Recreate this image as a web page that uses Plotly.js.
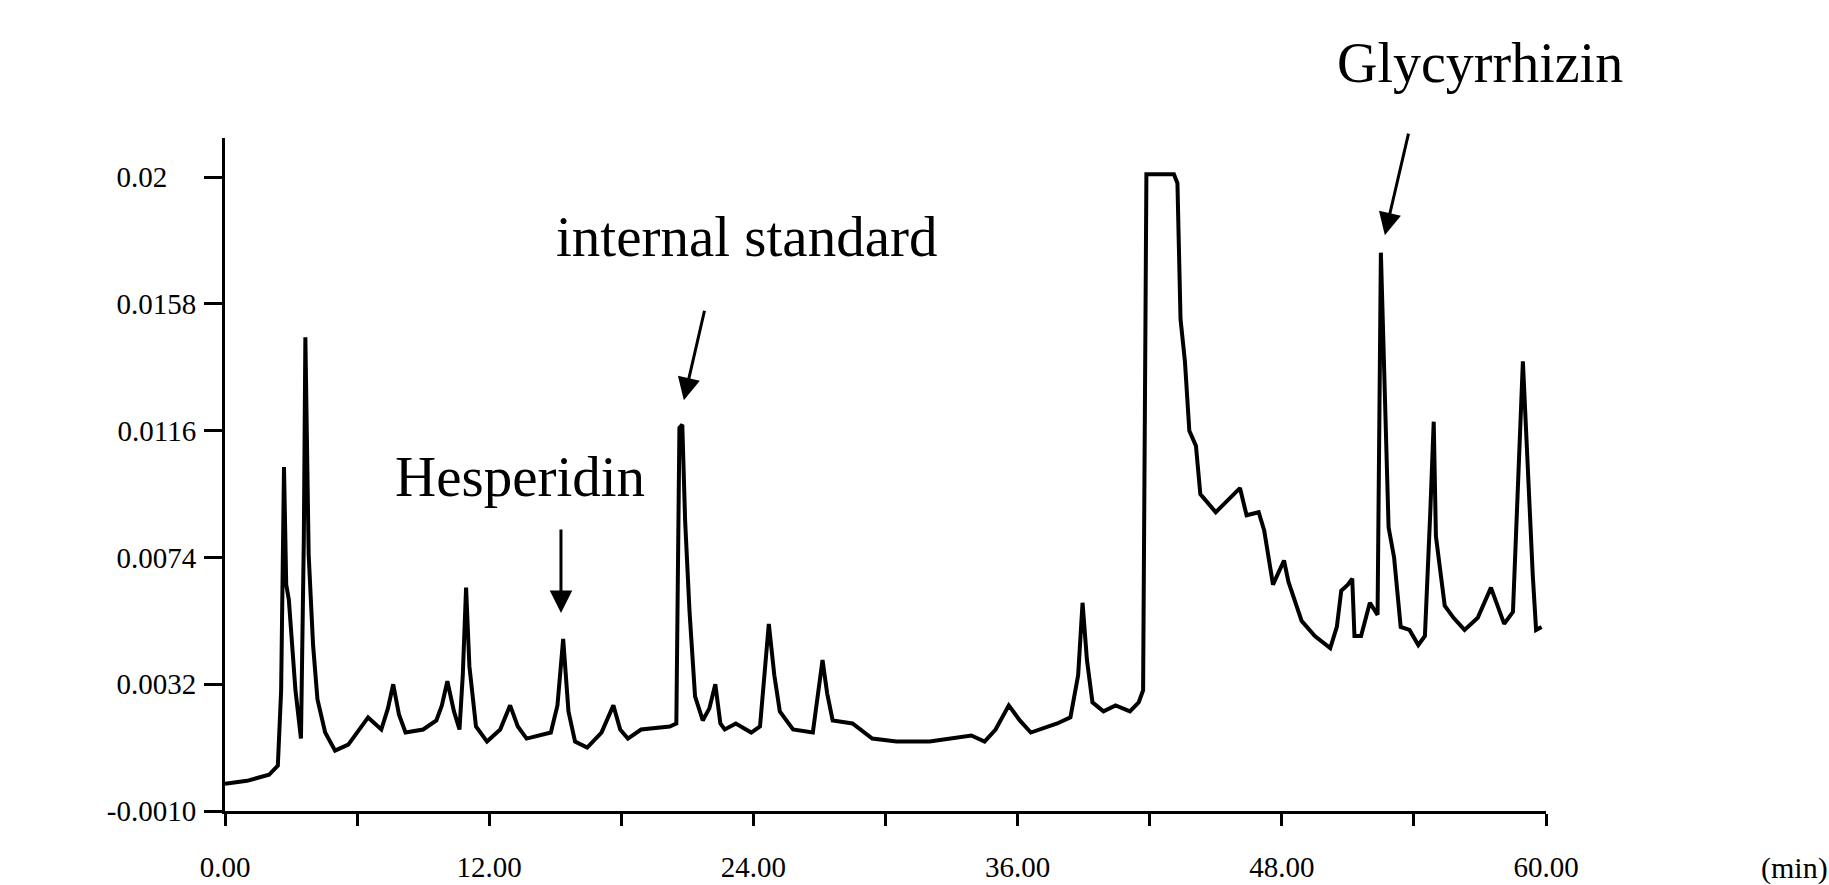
<!DOCTYPE html>
<html>
<head>
<meta charset="utf-8">
<script src="https://cdn.plot.ly/plotly-3.0.1.min.js"></script>
<style>html,body{margin:0;padding:0;background:#fff;}#chart{width:1829px;height:885px;}</style>
</head>
<body>
<div id="chart"></div>
<script>
// retention time (min)
var timeMin = [0, 1.0, 2.0, 2.4, 2.55, 2.68, 2.78, 2.9, 3.2, 3.45, 3.58, 3.65, 3.8, 4.0, 4.2, 4.55, 5.0, 5.6, 6.5, 7.1, 7.4, 7.64, 7.9, 8.2, 9.0, 9.6, 9.85, 10.1, 10.4, 10.65, 10.8, 10.95, 11.1, 11.4, 11.9, 12.5, 12.95, 13.3, 13.7, 14.8, 15.1, 15.36, 15.6, 15.9, 16.45, 17.1, 17.64, 17.95, 18.3, 18.9, 20.2, 20.5, 20.64, 20.77, 20.9, 21.1, 21.35, 21.7, 22.0, 22.27, 22.5, 22.7, 23.2, 23.9, 24.3, 24.7, 24.95, 25.2, 25.8, 26.7, 27.14, 27.35, 27.6, 28.5, 29.4, 30.5, 32.0, 33.9, 34.5, 35.0, 35.6, 36.1, 36.6, 37.8, 38.4, 38.75, 38.95, 39.15, 39.4, 39.9, 40.45, 41.1, 41.5, 41.7, 41.85, 43.1, 43.26, 43.4, 43.6, 43.8, 44.1, 44.3, 45.0, 45.7, 46.1, 46.4, 46.95, 47.2, 47.6, 48.1, 48.3, 48.9, 49.5, 50.2, 50.5, 50.7, 51.0, 51.2, 51.3, 51.6, 52.0, 52.35, 52.5, 52.85, 53.1, 53.4, 53.8, 54.2, 54.5, 54.75, 54.9, 55.0, 55.4, 55.8, 56.3, 56.9, 57.5, 58.1, 58.5, 58.7, 58.95, 59.4, 59.55, 59.8];
// absorbance
var absorbance = [-0.0001, 0.0000, 0.0002, 0.0005, 0.0030, 0.0104, 0.0065, 0.0060, 0.0030, 0.0014, 0.0080, 0.0147, 0.0075, 0.0045, 0.0027, 0.0016, 0.0010, 0.0012, 0.0021, 0.0017, 0.0024, 0.0032, 0.0022, 0.0016, 0.0017, 0.0020, 0.0025, 0.0033, 0.0023, 0.0017, 0.0035, 0.0064, 0.0038, 0.0018, 0.0013, 0.0017, 0.0025, 0.0018, 0.0014, 0.0016, 0.0025, 0.0047, 0.0023, 0.0013, 0.0011, 0.0016, 0.0025, 0.0017, 0.0014, 0.0017, 0.0018, 0.0019, 0.0117, 0.0118, 0.0086, 0.0056, 0.0028, 0.0020, 0.0024, 0.0032, 0.0019, 0.0017, 0.0019, 0.0016, 0.0018, 0.0052, 0.0035, 0.0023, 0.0017, 0.0016, 0.0040, 0.0029, 0.0020, 0.0019, 0.0014, 0.0013, 0.0013, 0.0015, 0.0013, 0.0017, 0.0025, 0.0020, 0.0016, 0.0019, 0.0021, 0.0035, 0.0059, 0.0040, 0.0026, 0.0023, 0.0025, 0.0023, 0.0026, 0.0030, 0.0201, 0.0201, 0.0198, 0.0153, 0.0139, 0.0116, 0.0111, 0.0095, 0.0089, 0.0094, 0.0097, 0.0088, 0.0089, 0.0083, 0.0065, 0.0073, 0.0066, 0.0053, 0.0048, 0.0044, 0.0051, 0.0063, 0.0065, 0.0067, 0.0048, 0.0048, 0.0059, 0.0055, 0.0175, 0.0084, 0.0074, 0.0051, 0.0050, 0.0045, 0.0048, 0.0090, 0.0119, 0.0081, 0.0058, 0.0054, 0.0050, 0.0054, 0.0064, 0.0052, 0.0056, 0.0093, 0.0139, 0.0068, 0.0050, 0.0051];

var xTickVals = [0, 6, 12, 18, 24, 30, 36, 42, 48, 54, 60];
var xTickText = ['0.00', '', '12.00', '', '24.00', '', '36.00', '', '48.00', '', '60.00'];
var yTickVals = [-0.0010, 0.0032, 0.0074, 0.0116, 0.0158, 0.02];
var yTickText = ['-0.0010', '0.0032', '0.0074', '0.0116', '0.0158', '0.02\u00a0\u00a0\u00a0\u00a0'];

// labelled peaks
var peakLabels = ['Glycyrrhizin', 'internal standard', 'Hesperidin'];
var arrowTipX = [52.68, 20.84, 15.26];
var arrowTipY = [0.01808, 0.01261, 0.00556];
var arrowTailDX = [24, 21, 0];
var arrowTailDY = [-103, -91, -85];

var serif = 'Liberation Serif, Times New Roman, serif';
var annotations = [
  {x: 0.950, y: 1.111, xref: 'paper', yref: 'paper', text: peakLabels[0], showarrow: false,
   xanchor: 'center', yanchor: 'middle', font: {family: serif, size: 56, color: '#000'}},
  {x: 23.7, y: 0.01803, xref: 'x', yref: 'y', text: peakLabels[1], showarrow: false,
   xanchor: 'center', yanchor: 'middle', font: {family: serif, size: 57, color: '#000'}},
  {x: 13.4, y: 0.01008, xref: 'x', yref: 'y', text: peakLabels[2], showarrow: false,
   xanchor: 'center', yanchor: 'middle', font: {family: serif, size: 57, color: '#000'}}
];
for (var i = 0; i < peakLabels.length; i++) {
  annotations.push({
    x: arrowTipX[i], y: arrowTipY[i], xref: 'x', yref: 'y',
    ax: arrowTailDX[i], ay: arrowTailDY[i], axref: 'pixel', ayref: 'pixel',
    text: '', showarrow: true, arrowhead: 2, arrowsize: 1.5, arrowwidth: 3,
    arrowcolor: '#000', standoff: 0
  });
}
annotations.push({
  x: 1.188, y: -0.085, xref: 'paper', yref: 'paper',
  text: '(min)', showarrow: false, xanchor: 'center', yanchor: 'middle',
  font: {family: serif, size: 30, color: '#000'}
});

var trace = {
  x: timeMin, y: absorbance, type: 'scatter', mode: 'lines',
  line: {color: '#000', width: 4}, hoverinfo: 'x+y'
};

var layout = {
  width: 1829, height: 885,
  margin: {l: 225, r: 283, t: 138, b: 74},
  paper_bgcolor: '#fff', plot_bgcolor: '#fff',
  showlegend: false,
  font: {family: serif, color: '#000'},
  xaxis: {
    range: [0, 60], tickmode: 'array', tickvals: xTickVals, ticktext: xTickText,
    ticks: 'outside', ticklen: 12, tickwidth: 3, tickcolor: '#000',
    showline: true, linecolor: '#000', linewidth: 3,
    showgrid: false, zeroline: false,
    tickfont: {family: serif, size: 29, color: '#000'},
    ticklabelstandoff: 16
  },
  yaxis: {
    range: [-0.001, 0.0213], tickmode: 'array', tickvals: yTickVals, ticktext: yTickText,
    ticks: 'outside', ticklen: 18, tickwidth: 3, tickcolor: '#000',
    showline: true, linecolor: '#000', linewidth: 3,
    showgrid: false, zeroline: false,
    tickfont: {family: serif, size: 29, color: '#000'},
    ticklabelstandoff: 2
  },
  annotations: annotations
};

Plotly.newPlot('chart', [trace], layout, {staticPlot: true, displayModeBar: false});
</script>
</body>
</html>
